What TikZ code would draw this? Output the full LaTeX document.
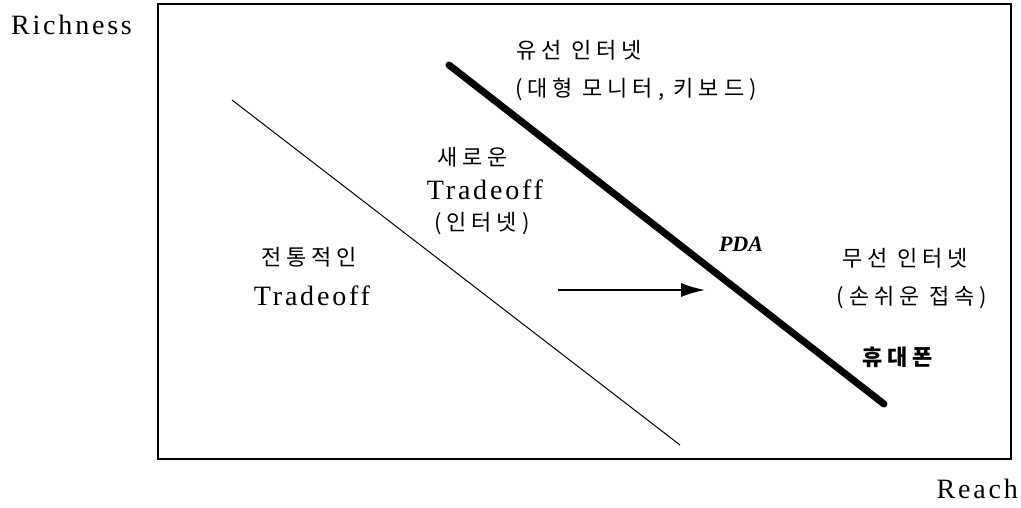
\documentclass[tikz,border=0pt]{standalone}
\usepackage{fontspec}
\setmainfont{Liberation Serif}
\newfontfamily\kr{Noto Sans CJK KR}[LetterSpace=22]
\newfontfamily\lat{Liberation Serif}[LetterSpace=10]
\usetikzlibrary{arrows.meta}
\tikzset{
  lat/.style={font=\lat\fontsize{28}{30}\selectfont, inner sep=0pt},
  kor/.style={font=\kr\fontsize{22}{24}\selectfont, inner sep=0pt},
  thinline/.style={line width=1pt},
  thickline/.style={line width=7pt, line cap=round},
}
\begin{document}
\begin{tikzpicture}[x=1pt,y=-1pt]
\path[use as bounding box, fill=white] (0,0) rectangle (1021,507);
\draw[line width=1.8pt] (158,4) rectangle (1011,459);
\node[lat, anchor=west] (rich) at (11,25) {Richness};
\node[lat, anchor=east] (reach) at (1018,489) {Reach};
\coordinate (t1) at (232,100);
\coordinate (t2) at (680,445);
\draw[thinline] (t1) -- (t2);
\coordinate (k1) at (449,65);
\coordinate (k2) at (884,404);
\draw[thickline] (k1) -- (k2);
\coordinate (a1) at (558,290);
\coordinate (a2) at (705,290);
\draw[line width=1.5pt, -{Latex[length=24pt,width=14pt]}] (a1) -- (a2);
\node[kor] (wired) at (579,50) {유선 인터넷};
\node[kor] (wired2) at (636,89) {(대형 모니터, 키보드)};
\node[kor] (new1) at (473,157) {새로운};
\node[lat] (new2) at (485,190) {Tradeoff};
\node[kor] (new3) at (482,224) {(인터넷)};
\node[kor] (old1) at (309,257) {전통적인};
\node[lat] (old2) at (312,296) {Tradeoff};
\node[font=\fontsize{22}{24}\selectfont\bfseries\itshape, inner sep=0pt] (pda) at (741,244) {PDA};
\node[kor] (wl1) at (905,258) {무선 인터넷};
\node[kor] (wl2) at (912,298) {(손쉬운 접속)};
\node[kor, font=\kr\bfseries\fontsize{22}{24}\selectfont] (phone) at (898,357) {휴대폰};
\end{tikzpicture}
\end{document}
